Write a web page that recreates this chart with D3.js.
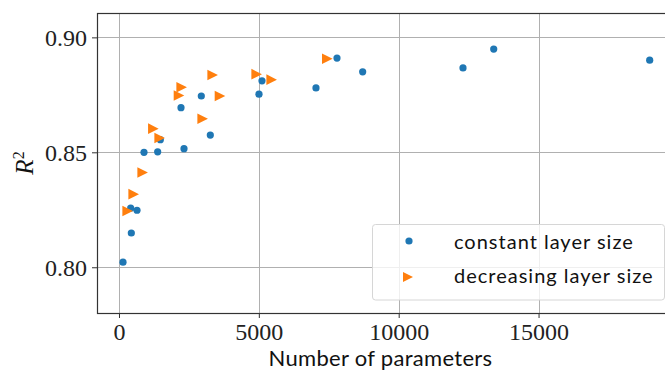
<!DOCTYPE html>
<html><head><meta charset="utf-8">
<script src="https://cdn.jsdelivr.net/npm/d3@7"></script>
<style>body{margin:0;background:#fff}svg{display:block}</style>
</head><body><svg id="c" width="665" height="372"></svg>
<script>
// Data
const constantParams = [143, 441, 418, 644, 894, 1383, 1478, 2324, 2217, 2943, 3265, 5005, 5113, 7043, 7794, 8712, 12299, 13397, 18973];
const constantR2     = [0.8022, 0.8149, 0.8257, 0.8248, 0.8500, 0.8502, 0.8555, 0.8516, 0.8694, 0.8745, 0.8575, 0.8753, 0.8811, 0.8780, 0.8910, 0.8850, 0.8867, 0.8949, 0.8901];
const decreasingParams = [310, 525, 846, 1228, 1454, 2145, 2241, 2991, 3349, 3611, 4922, 5458, 7448];
const decreasingR2     = [0.8245, 0.8318, 0.8412, 0.8603, 0.8562, 0.8747, 0.8783, 0.8646, 0.8836, 0.8745, 0.8840, 0.8816, 0.8907];
const xTicks = [0, 5000, 10000, 15000];
const yTicks = [0.80, 0.85, 0.90];
const seriesNames = ["constant layer size", "decreasing layer size"];
const xLabel = "Number of parameters";

const svg = d3.select("#c");
const L = 97, R = 676, T = 13, B = 313;
const x = d3.scaleLinear().domain([-786, 19914]).range([L, R]);
const y = d3.scaleLinear().domain([0.7801, 0.9106]).range([B, T]);
const blue = "#1f77b4", orange = "#ff7f0e";

// grid
const g = svg.append("g");
g.selectAll(".vx").data(xTicks).join("line")
  .attr("x1", d => Math.round(x(d)) + 0.5).attr("x2", d => Math.round(x(d)) + 0.5)
  .attr("y1", T).attr("y2", B).attr("stroke", "#b0b0b0").attr("stroke-width", 1);
g.selectAll(".hy").data(yTicks).join("line")
  .attr("y1", d => Math.round(y(d)) + 0.5).attr("y2", d => Math.round(y(d)) + 0.5)
  .attr("x1", L).attr("x2", R).attr("stroke", "#b0b0b0").attr("stroke-width", 1);

// axes
const xAxis = d3.axisBottom(x).tickValues(xTicks).tickSize(5).tickPadding(3).tickFormat(d3.format("d"));
const yAxis = d3.axisLeft(y).tickValues(yTicks).tickSize(5).tickPadding(5).tickFormat(d3.format(".2f"));
const gx = svg.append("g").attr("transform", `translate(0,${B})`).call(xAxis);
const gy = svg.append("g").attr("transform", `translate(${L},0)`).call(yAxis);
[gx, gy].forEach(a => {
  a.select(".domain").remove();
  a.selectAll(".tick line").attr("stroke", "#333");
  a.selectAll(".tick text").attr("font-family", "Liberation Serif, serif").attr("font-size", 24).attr("fill", "#222");
});
gy.selectAll(".tick text").attr("dy", "0.34em");
gx.selectAll(".tick text").attr("dy", "0.78em");

// frame
svg.append("rect").attr("x", L + 0.5).attr("y", T + 0.5).attr("width", R - L).attr("height", B - T)
  .attr("fill", "none").attr("stroke", "#333").attr("stroke-width", 1.2);

// points
const cData = constantParams.map((p, i) => [p, constantR2[i]]);
const dData = decreasingParams.map((p, i) => [p, decreasingR2[i]]);
const tri = s => `M${-s},${-s}L${s},0L${-s},${s}Z`;
svg.append("g").selectAll("circle").data(cData).join("circle")
  .attr("cx", d => x(d[0])).attr("cy", d => y(d[1])).attr("r", 3.6).attr("fill", blue);
svg.append("g").selectAll("path").data(dData).join("path")
  .attr("transform", d => `translate(${x(d[0])},${y(d[1])})`).attr("d", tri(5.3)).attr("fill", orange);

// legend
const lg = svg.append("g");
lg.append("rect").attr("x", 372.5).attr("y", 224.5).attr("width", 292).attr("height", 75.5).attr("rx", 3)
  .attr("fill", "#fff").attr("fill-opacity", 0.8).attr("stroke", "#d6d6d6").attr("stroke-width", 1);
lg.append("circle").attr("cx", 409).attr("cy", 241).attr("r", 3.6).attr("fill", blue);
lg.append("path").attr("transform", "translate(408,277)").attr("d", tri(5)).attr("fill", orange);
lg.selectAll("text").data(seriesNames).join("text")
  .attr("x", 454).attr("y", (d, i) => 248.5 + i * 34)
  .attr("font-family", "Lato, sans-serif").attr("font-size", 20).attr("letter-spacing", 1).attr("fill", "#111").text(d => d);

// axis labels
svg.append("text").attr("x", (L + 664) / 2).attr("y", 365.5).attr("text-anchor", "middle")
  .attr("font-family", "Lato, sans-serif").attr("font-size", 22).attr("letter-spacing", 0.3).attr("fill", "#111").text(xLabel);
const yl = svg.append("text").attr("transform", `translate(33,${(T + B) / 2}) rotate(-90)`).attr("text-anchor", "middle")
  .attr("font-family", "Liberation Serif, serif").attr("font-size", 25).attr("fill", "#111");
yl.append("tspan").attr("font-style", "italic").text("R");
yl.append("tspan").attr("font-size", 16).attr("dy", -9).text("2");
</script></body></html>
